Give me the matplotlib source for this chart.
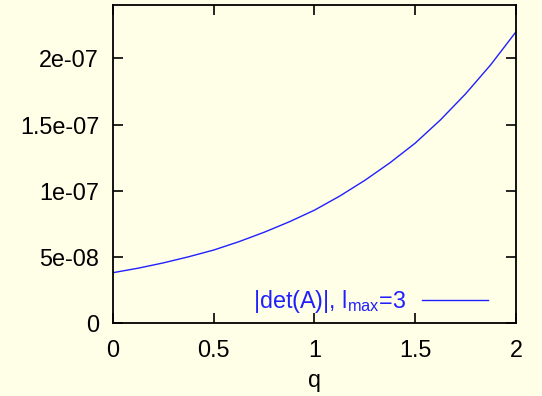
import numpy as np
import matplotlib
matplotlib.use("Agg")
import matplotlib.pyplot as plt

# values (q vs |det(A)|)
q = [0, 0.125, 0.25, 0.375, 0.5, 0.625, 0.75, 0.875, 1.0,
     1.125, 1.25, 1.375, 1.5, 1.625, 1.75, 1.875, 2.0]
det_a = [3.82, 4.16, 4.56, 5.02, 5.53, 6.16, 6.87, 7.66, 8.54,
         9.60, 10.79, 12.12, 13.60, 15.35, 17.32, 19.52, 22.0]
det_a = [v * 1e-8 for v in det_a]

xticks = [0, 0.5, 1, 1.5, 2]
xtick_labels = ['0', '0.5', '1', '1.5', '2']
yticks = [0, 5e-8, 1e-7, 1.5e-7, 2e-7]
ytick_labels = ['0', '5e-08', '1e-07', '1.5e-07', '2e-07']

plt.rcParams['font.family'] = ['Liberation Sans', 'DejaVu Sans']
plt.rcParams['mathtext.fontset'] = 'custom'
plt.rcParams['mathtext.rm'] = 'Liberation Sans'
plt.rcParams['mathtext.it'] = 'Liberation Sans:italic'

fs = 16.8
bg = '#fffee6'
fig = plt.figure(figsize=(5.42, 3.96), dpi=100, facecolor=bg)
ax = fig.add_axes([0.2085, 0.1836, 0.7435, 0.803])
ax.set_facecolor(bg)

ax.plot(q, det_a, color='#2020ff', linewidth=1.0, label=r'|det(A)|, l$_{\mathrm{max}}$=3')

ax.set_xlim(0, 2)
ax.set_ylim(0, 2.4e-7)
ax.set_xticks(xticks)
ax.set_xticklabels(xtick_labels)
ax.set_yticks(yticks)
ax.set_yticklabels(ytick_labels)
ax.tick_params(direction='in', length=7, width=1.2, labelsize=fs,
               top=True, right=True)
ax.tick_params(axis='x', pad=11)
ax.tick_params(axis='y', pad=10)
for s in ax.spines.values():
    s.set_linewidth(1.3)

ax.set_xlabel('q', fontsize=fs, labelpad=5)

leg = ax.legend(loc='center right', bbox_to_anchor=(0.930, 0.067),
                frameon=False, markerfirst=False, fontsize=fs,
                handlelength=2.8, handletextpad=0.7, borderpad=0,
                borderaxespad=0)
for t in leg.get_texts():
    t.set_color('#2020ff')

plt.savefig('out.png', dpi=100, facecolor=bg)
